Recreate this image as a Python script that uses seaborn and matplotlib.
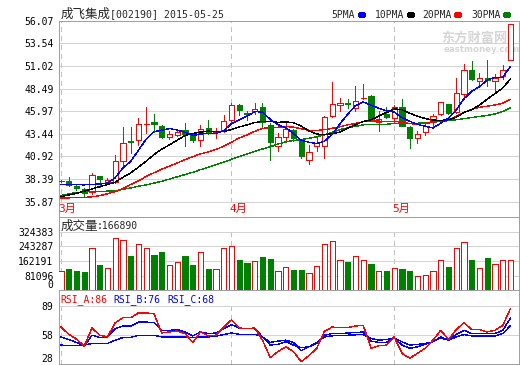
import numpy as np
import pandas as pd
import matplotlib
matplotlib.use("Agg")
import matplotlib.pyplot as plt
import seaborn as sns
from matplotlib.patches import Rectangle

# -------------------------------
# Data (成飞集成 002190, 2015-03-02 .. 2015-05-25)
# -------------------------------

opens = [38.20, 38.20, 37.67, 37.26, 36.92, 38.72, 38.05, 38.05, 40.38, 42.63,
         42.75, 44.50, 44.74, 44.33, 43.05, 43.35, 43.85, 43.39, 42.71, 44.07,
         43.60, 43.84, 44.97, 46.69, 45.80, 45.94, 46.47, 44.44, 42.11, 43.09,
         43.87, 42.63, 40.49, 42.04, 42.11, 45.42, 46.61, 46.85, 46.32, 47.40,
         47.71, 44.74, 45.68, 45.26, 46.47, 44.21, 42.94, 43.68, 44.89, 45.65,
         46.77, 45.87, 47.90, 50.60, 49.32, 49.62, 49.35, 49.88, 51.73]
closes = [38.22, 37.75, 37.37, 36.85, 38.88, 38.35, 38.30, 40.38, 42.37, 42.48,
          44.52, 44.58, 44.55, 43.12, 43.42, 43.65, 43.40, 42.71, 43.99, 43.62,
          43.75, 44.89, 46.69, 46.05, 45.70, 46.24, 44.74, 42.55, 43.09, 43.99,
          43.00, 40.94, 41.47, 42.41, 45.34, 46.77, 46.88, 46.80, 47.14, 47.45,
          44.97, 45.11, 45.37, 46.43, 44.36, 42.94, 43.42, 44.33, 45.45, 47.00,
          45.76, 48.01, 50.60, 49.59, 49.62, 49.40, 49.62, 50.60, 55.66]
highs = [38.30, 38.58, 37.82, 37.45, 39.10, 38.75, 38.54, 41.06, 44.18, 44.18,
         45.23, 46.47, 45.65, 44.40, 43.80, 43.90, 44.60, 43.50, 44.44, 45.03,
         44.07, 45.57, 46.84, 46.80, 45.95, 46.84, 46.92, 44.63, 43.50, 44.81,
         44.00, 42.70, 42.15, 43.23, 45.45, 49.25, 47.45, 47.37, 48.80, 49.03,
         47.82, 46.02, 46.47, 46.69, 47.37, 44.30, 43.76, 44.74, 45.65, 47.05,
         46.80, 49.70, 51.20, 51.57, 50.22, 51.65, 50.07, 51.12, 55.66]
lows = [38.10, 37.64, 37.20, 36.55, 36.74, 37.48, 37.82, 37.95, 39.74, 41.25,
        42.18, 43.50, 43.68, 42.94, 42.85, 43.20, 42.10, 42.55, 42.10, 43.39,
        43.00, 43.70, 44.81, 45.57, 45.03, 45.71, 44.25, 40.57, 41.51, 42.71,
        42.70, 40.80, 40.12, 41.51, 40.80, 45.30, 45.94, 46.32, 46.02, 47.30,
        44.90, 43.76, 45.26, 44.81, 44.30, 41.88, 42.41, 43.31, 44.07, 45.50,
        45.65, 45.80, 47.45, 49.40, 48.80, 48.80, 48.27, 49.51, 51.73]
volumes = [106000, 117000, 106000, 101000, 231000, 139000, 121000, 286000, 275000, 189000,
           255000, 236000, 194000, 209000, 137000, 154000, 189000, 139000, 214000, 117000,
           115000, 231000, 242000, 167000, 150000, 159000, 183000, 172000, 106000, 126000,
           112000, 112000, 95000, 134000, 255000, 271000, 170000, 156000, 187000, 170000,
           145000, 106000, 106000, 123000, 117000, 106000, 77000, 84000, 106000, 167000,
           128000, 233000, 266000, 167000, 123000, 178000, 145000, 170000, 166890]

# moving-average values before a full window exists
ma5_head = [37.82, 37.80, 37.77, 37.75]
ma10_head = [36.43, 36.62, 36.81, 37.05, 37.30, 37.55, 37.79, 38.05, 38.60]
ma20_head = [36.29, 36.30, 36.32, 36.35, 36.42, 36.55, 36.75, 37.00, 37.35, 37.80,
             38.20, 38.70, 39.10, 39.50, 39.85, 40.20, 40.55, 40.90, 41.20]
ma30_head = [36.55, 36.75, 36.90, 36.97, 37.00, 37.02, 37.05, 37.10, 37.25, 37.40,
             37.60, 37.75, 37.95, 38.15, 38.40, 38.65, 38.90, 39.15, 39.45, 39.70,
             40.00, 40.30, 40.60, 40.90, 41.20, 41.50, 41.75, 42.00, 42.30]

rsi_a = [66.6, 59.0, 54.0, 46.7, 65.6, 58.1, 56.3, 71.1, 76.3, 76.3,
         81.4, 81.4, 80.3, 60.4, 61.5, 62.5, 59.8, 50.5, 61.5, 57.4,
         58.1, 66.6, 74.2, 65.6, 65.0, 65.6, 52.9, 34.7, 40.9, 46.0,
         40.9, 30.5, 36.8, 44.4, 62.2, 66.6, 66.0, 66.0, 67.7, 68.4,
         44.4, 47.1, 47.8, 56.3, 39.2, 34.0, 39.2, 44.4, 52.9, 63.2,
         53.6, 63.9, 71.1, 63.9, 63.9, 61.5, 63.2, 68.4, 86.0]
rsi_b = [56.3, 53.6, 50.5, 46.7, 58.1, 55.7, 56.3, 65.0, 67.7, 67.7,
         71.8, 71.8, 71.1, 63.2, 63.2, 63.9, 61.5, 57.4, 61.5, 59.8,
         60.4, 65.0, 69.1, 65.6, 65.0, 65.0, 56.3, 50.5, 51.9, 52.9,
         50.5, 42.0, 46.0, 49.5, 58.1, 59.8, 59.8, 60.4, 60.8, 61.5,
         51.9, 50.5, 50.5, 55.3, 47.8, 44.4, 46.0, 48.5, 51.2, 56.3,
         52.9, 58.8, 63.2, 59.8, 59.8, 59.8, 59.8, 63.2, 76.0]
rsi_c = [47.8, 47.1, 47.1, 47.8, 49.5, 49.5, 49.5, 52.9, 55.7, 55.7,
         58.1, 58.1, 58.1, 56.3, 56.3, 56.3, 56.3, 55.7, 56.3, 56.3,
         57.0, 58.8, 60.4, 59.1, 59.1, 59.1, 56.3, 47.8, 48.5, 51.2,
         47.8, 45.0, 46.0, 50.5, 56.3, 57.4, 58.1, 58.1, 58.5, 58.8,
         54.6, 52.9, 53.6, 55.3, 51.2, 47.8, 48.5, 49.5, 51.2, 55.3,
         52.9, 56.3, 58.8, 57.4, 57.4, 57.4, 57.4, 59.8, 68.0]

month_labels = ["3月", "4月", "5月"]
month_starts = [0, 22, 43]

price_ticks = [35.87, 38.39, 40.92, 43.44, 45.97, 48.49, 51.02, 53.54, 56.07]
vol_ticks = [0, 81096, 162191, 243287, 324383]
rsi_ticks = [28, 58, 89]

ma_labels = ["5PMA", "10PMA", "20PMA", "30PMA"]

# -------------------------------
# Style
# -------------------------------

sns.set_style("white")
plt.rcParams["font.family"] = ["DejaVu Sans Mono", "Noto Sans CJK SC"]
plt.rcParams["lines.antialiased"] = False
plt.rcParams["patch.antialiased"] = False

RED = "#FF0000"
GREEN = "#008000"
BLUE = "#0000FF"
GRID = "#D3D3D3"
BORDER = "#A0A0A0"
DASH = "#C0C0C0"
LW = 0.6      # about one pixel at 100 dpi (snapped lines)
CURVE = 0.25  # hairline for the non-antialiased indicator curves

df = pd.DataFrame({"open": opens, "close": closes, "high": highs,
                   "low": lows, "volume": volumes})
df["idx"] = np.arange(len(df))
df["up"] = df["close"] >= df["open"]


def moving_avg(n, head):
    s = df["close"].rolling(n).mean()
    s.iloc[:len(head)] = head
    return s


df["ma5"] = moving_avg(5, ma5_head)
df["ma10"] = moving_avg(10, ma10_head)
df["ma20"] = moving_avg(20, ma20_head)
df["ma30"] = moving_avg(30, ma30_head)

# -------------------------------
# Layout (pixel boxes of the 520x365 picture)
# -------------------------------

W, H = 520, 365
fig = plt.figure(figsize=(W / 100, H / 100), dpi=100)


def box(x0, y0, x1, y1):
    return [x0 / W, 1 - y1 / H, (x1 - x0) / W, (y1 - y0) / H]


ax1 = fig.add_axes(box(59, 20.7, 519, 217.3))
ax2 = fig.add_axes(box(59, 217.3, 519, 290.3))
ax3 = fig.add_axes(box(59, 290.3, 519, 364))

x_lo = -0.258
x_hi = x_lo + 460 / 7.75
price_lo, price_hi = 34.13, 56.07
vol_hi = 403000
rsi_lo, rsi_hi = 28, 105

for ax in (ax1, ax2, ax3):
    ax.set_xlim(x_lo, x_hi)
    ax.set_xticks([])
    ax.set_axisbelow(True)
    ax.yaxis.grid(True, color=GRID, lw=LW)
    ax.tick_params(axis="y", length=0, pad=4, labelsize=7, labelcolor="black")
    for sp in ax.spines.values():
        sp.set_color(BORDER)
        sp.set_linewidth(LW)

# -------------------------------
# Price panel
# -------------------------------

ax1.set_ylim(price_lo, price_hi)
ax1.set_yticks(price_ticks)
ax1.set_yticklabels([f"{v:.2f}" for v in price_ticks])

for m in month_starts:
    ax1.axvline(m, ymin=(price_ticks[0] - price_lo) / (price_hi - price_lo),
                color=DASH, lw=LW, ls=(0, (5, 5)), zorder=0)
    ax2.axvline(m, ymax=vol_ticks[-1] / vol_hi, color=DASH, lw=LW, ls=(0, (5, 5)), zorder=0)
    ax3.axvline(m, ymax=(89 - rsi_lo) / (rsi_hi - rsi_lo), color=DASH, lw=LW,
                ls=(0, (5, 5)), zorder=0)

for lab, m in zip(month_labels, month_starts):
    ax1.text(m - 0.3, 35.05, lab, color=RED, fontsize=8, ha="left", va="center")

# watermark
ax1.text(0.832, 0.915, "东方财富网", transform=ax1.transAxes, color="#D6D6D6",
         fontsize=9.5, fontweight="bold", family="Noto Sans CJK SC",
         ha="left", va="center", zorder=0)
ax1.text(0.836, 0.852, "eastmoney.com", transform=ax1.transAxes, color="#D6D6D6",
         fontsize=6.2, fontweight="bold", family="DejaVu Sans", ha="left",
         va="center", zorder=0)

bw = 0.66
for i, r in df.iterrows():
    col = RED if r["up"] else GREEN
    lo_b, hi_b = min(r["open"], r["close"]), max(r["open"], r["close"])
    if r["up"]:
        ax1.vlines(i, r["low"], lo_b, color=col, lw=LW, zorder=2)
        ax1.vlines(i, hi_b, r["high"], color=col, lw=LW, zorder=2)
        fc = "white"
    else:
        ax1.vlines(i, r["low"], r["high"], color=col, lw=LW, zorder=2)
        fc = GREEN
    ax1.add_patch(Rectangle((i - bw / 2, lo_b), bw, max(hi_b - lo_b, 0.001),
                            facecolor=fc, edgecolor=col, lw=LW, zorder=3))

for col_name, color in zip(["ma30", "ma20", "ma10", "ma5"], [GREEN, RED, "black", BLUE]):
    sns.lineplot(data=df, x="idx", y=col_name, ax=ax1, color=color, linewidth=CURVE,
                 legend=False, zorder=4)
ax1.set_xlabel("")
ax1.set_ylabel("")

# -------------------------------
# Volume panel
# -------------------------------

ax2.set_ylim(0, vol_hi)
ax2.set_yticks(vol_ticks)
ax2.set_yticklabels([str(v) for v in vol_ticks])
ax2.bar(df["idx"], df["volume"], width=bw,
        color=["white" if u else GREEN for u in df["up"]],
        edgecolor=[RED if u else GREEN for u in df["up"]], linewidth=LW, zorder=3)
ax2.get_yticklabels()[0].set_va("bottom")

# -------------------------------
# RSI panel
# -------------------------------

ax3.set_ylim(rsi_lo, rsi_hi)
ax3.set_yticks(rsi_ticks)
ax3.set_yticklabels([str(v) for v in rsi_ticks])
ax3.get_yticklabels()[0].set_va("bottom")
rsi = pd.DataFrame({"idx": df["idx"], "a": rsi_a, "b": rsi_b, "c": rsi_c})
for col_name, color in zip(["c", "b", "a"], [BLUE, BLUE, RED]):
    sns.lineplot(data=rsi, x="idx", y=col_name, ax=ax3, color=color, linewidth=CURVE,
                 legend=False, zorder=4)
for ax in (ax2, ax3):
    ax.set_xlabel("")
    ax.set_ylabel("")

# -------------------------------
# Header texts
# -------------------------------


def ftext(x, y, s, **kw):
    fig.text(x / W, 1 - y / H, s, va="center", ha="left", **kw)


ftext(61, 14.5, "成飞集成", family="Noto Sans CJK SC", fontsize=9)
ftext(110, 14.5, "[002190] 2015-05-25", family="DejaVu Sans Mono", fontsize=7.1)

legend_x = [331.7, 375, 422, 471]
for lab, lx, color in zip(ma_labels, legend_x, [BLUE, "black", RED, GREEN]):
    ftext(lx, 14.5, lab, family="DejaVu Sans Mono", fontsize=7)
    dx = lx + len(lab) * 5.85 + 4
    fig.add_artist(Rectangle((dx / W, 1 - 16 / H), 5 / W, 3 / H,
                             transform=fig.transFigure, color=color))

ftext(61, 226, "成交量", family="Noto Sans CJK SC", fontsize=9)
ftext(97, 226, f":{volumes[-1]}", family="DejaVu Sans Mono", fontsize=7)

ftext(60, 300, f"RSI_A:{rsi_a[-1]:.0f}", family="DejaVu Sans Mono", fontsize=7, color=RED)
ftext(113, 300, f"RSI_B:{rsi_b[-1]:.0f}", family="DejaVu Sans Mono", fontsize=7, color=BLUE)
ftext(167, 300, f"RSI_C:{rsi_c[-1]:.0f}", family="DejaVu Sans Mono", fontsize=7, color=BLUE)

fig.savefig("out.png", dpi=100)
